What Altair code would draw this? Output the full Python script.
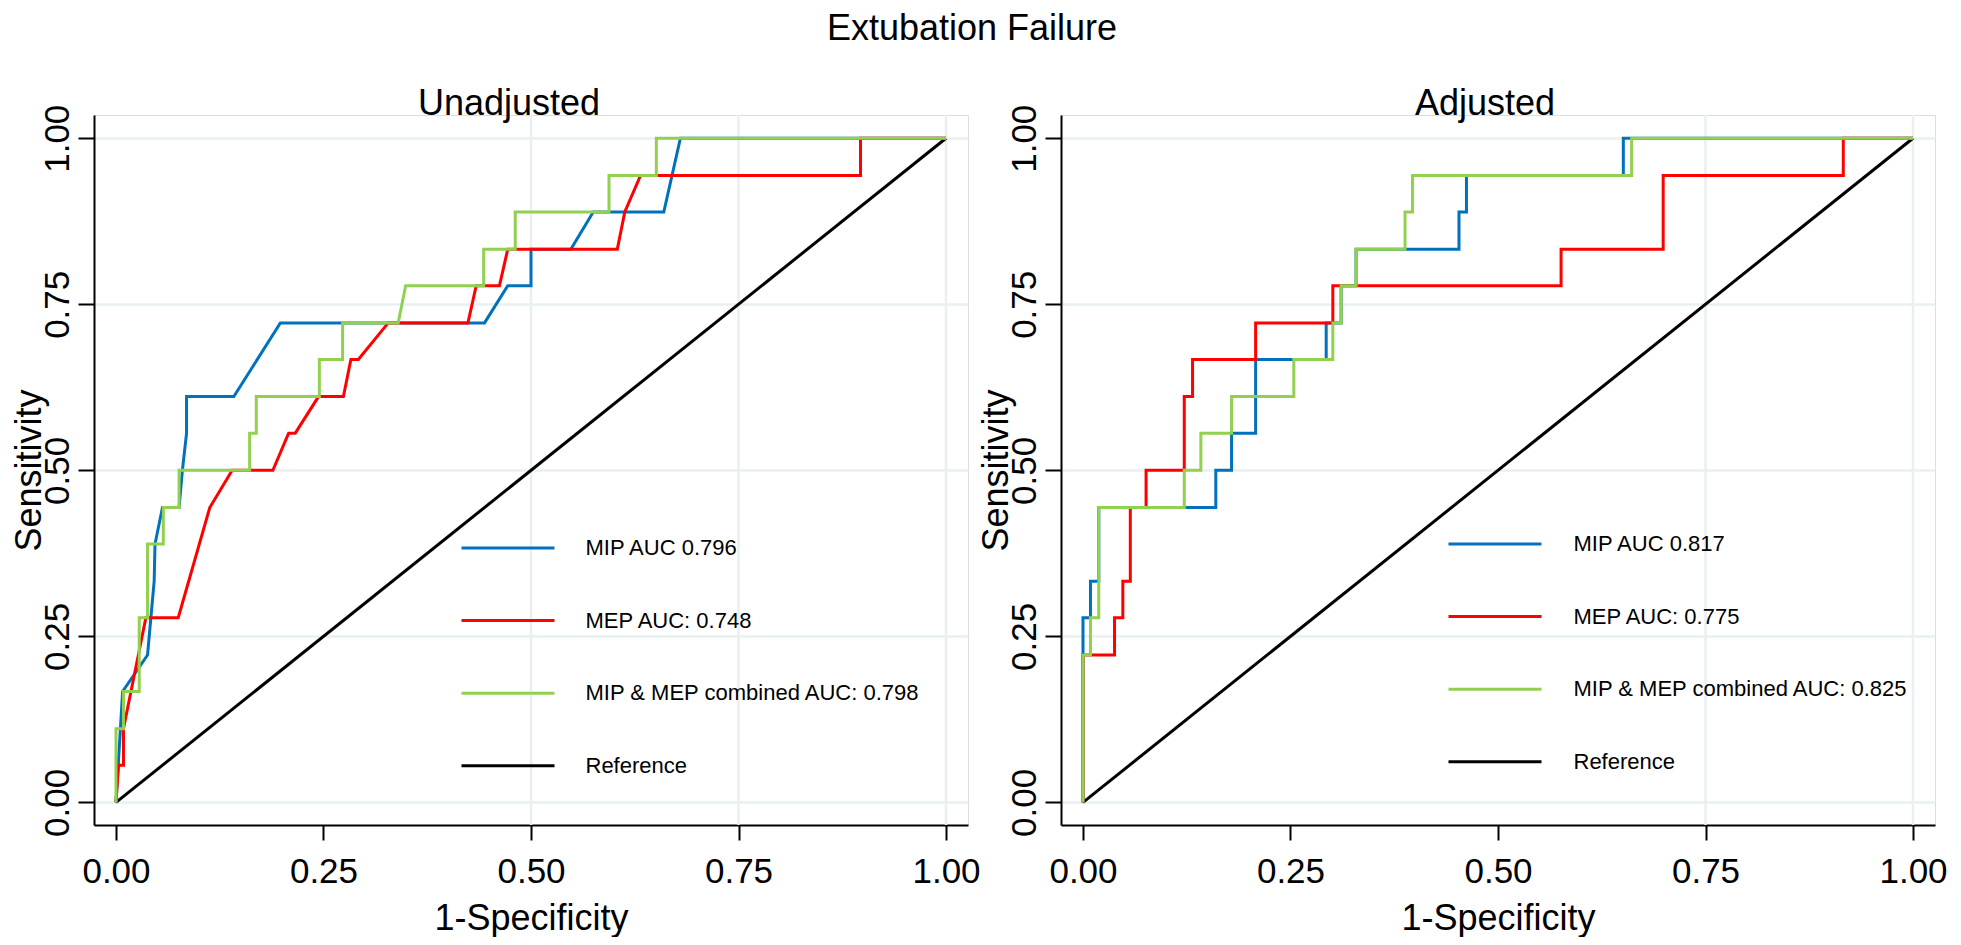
import altair as alt
import pandas as pd

FONT = "Liberation Sans"

# ---------------- data ----------------
colors = ["#0072BD", "#FF0000", "#92D050", "#000000"]
grid_color = "#E8F0F2"

x_ticks = [0, 0.25, 0.5, 0.75, 1.0]
y_ticks = [0, 0.25, 0.5, 0.75, 1.0]

# Unadjusted panel
un_labels = ["MIP AUC 0.796", "MEP AUC: 0.748", "MIP & MEP combined AUC: 0.798", "Reference"]
un_xgrid = [0.5, 0.75, 1.0]

un_mip_x = [0, 0.008, 0.038, 0.046, 0.047, 0.056, 0.076, 0.080, 0.085, 0.085, 0.142,
            0.198, 0.444, 0.472, 0.500, 0.500, 0.548, 0.575, 0.660, 0.680, 1.000]
un_mip_y = [0, 0.167, 0.222, 0.333, 0.389, 0.444, 0.444, 0.5, 0.556, 0.611, 0.611,
            0.722, 0.722, 0.778, 0.778, 0.833, 0.833, 0.889, 0.889, 1.0, 1.0]

un_mep_x = [0, 0.003, 0.009, 0.009, 0.036, 0.075, 0.113, 0.140, 0.189, 0.208, 0.216,
            0.244, 0.274, 0.283, 0.292, 0.328, 0.424, 0.434, 0.462, 0.472, 0.604,
            0.613, 0.632, 0.897, 0.897, 1.0]
un_mep_y = [0, 0.056, 0.056, 0.111, 0.278, 0.278, 0.444, 0.5, 0.5, 0.556, 0.556,
            0.611, 0.611, 0.667, 0.667, 0.722, 0.722, 0.778, 0.778, 0.833, 0.833,
            0.889, 0.944, 0.944, 1.0, 1.0]

un_comb_x = [0, 0, 0.009, 0.009, 0.028, 0.028, 0.038, 0.038, 0.057, 0.057, 0.076,
             0.076, 0.161, 0.161, 0.169, 0.169, 0.245, 0.245, 0.273, 0.273, 0.340,
             0.349, 0.443, 0.443, 0.481, 0.481, 0.594, 0.594, 0.651, 0.651, 1.0]
un_comb_y = [0, 0.111, 0.111, 0.167, 0.167, 0.278, 0.278, 0.389, 0.389, 0.444, 0.444,
             0.5, 0.5, 0.556, 0.556, 0.611, 0.611, 0.667, 0.667, 0.722, 0.722,
             0.778, 0.778, 0.833, 0.833, 0.889, 0.889, 0.944, 0.944, 1.0, 1.0]

# Adjusted panel
adj_labels = ["MIP AUC 0.817", "MEP AUC: 0.775", "MIP & MEP combined AUC: 0.825", "Reference"]
adj_xgrid = [0.75, 1.0]

adj_mip_x = [0, 0, 0.009, 0.009, 0.019, 0.019, 0.160, 0.160, 0.179, 0.179, 0.208, 0.208,
             0.293, 0.293, 0.311, 0.311, 0.329, 0.329, 0.453, 0.453, 0.462, 0.462,
             0.651, 0.651, 1.0]
adj_mip_y = [0, 0.278, 0.278, 0.333, 0.333, 0.444, 0.444, 0.5, 0.5, 0.556, 0.556, 0.667,
             0.667, 0.722, 0.722, 0.778, 0.778, 0.833, 0.833, 0.889, 0.889, 0.944,
             0.944, 1.0, 1.0]

adj_mep_x = [0, 0, 0.038, 0.038, 0.048, 0.048, 0.057, 0.057, 0.076, 0.076, 0.122, 0.122,
             0.132, 0.132, 0.208, 0.208, 0.301, 0.301, 0.576, 0.576, 0.699, 0.699,
             0.916, 0.916, 1.0]
adj_mep_y = [0, 0.222, 0.222, 0.278, 0.278, 0.333, 0.333, 0.444, 0.444, 0.5, 0.5, 0.611,
             0.611, 0.667, 0.667, 0.722, 0.722, 0.778, 0.778, 0.833, 0.833, 0.944,
             0.944, 1.0, 1.0]

adj_comb_x = [0, 0, 0.009, 0.009, 0.019, 0.019, 0.122, 0.122, 0.142, 0.142, 0.179, 0.179,
              0.254, 0.254, 0.301, 0.301, 0.311, 0.311, 0.329, 0.329, 0.388, 0.388,
              0.397, 0.397, 0.661, 0.661, 1.0]
adj_comb_y = [0, 0.222, 0.222, 0.278, 0.278, 0.444, 0.444, 0.5, 0.5, 0.556, 0.556, 0.611,
              0.611, 0.667, 0.667, 0.722, 0.722, 0.778, 0.778, 0.833, 0.833, 0.889,
              0.889, 0.944, 0.944, 1.0, 1.0]

ref_x = [0, 1]
ref_y = [0, 1]

# ---------------- layout constants ----------------
W, H = 874, 710
X_DOMAIN = [-0.0265, 1.0265]
Y_DOMAIN = [-0.034, 1.035]


def build_df(labels, xs_list, ys_list):
    rows = []
    for lab, xs, ys in zip(labels, xs_list, ys_list):
        for i, (xv, yv) in enumerate(zip(xs, ys)):
            rows.append({"series": lab, "fpr": xv, "tpr": yv, "i": i})
    return pd.DataFrame(rows)


def panel(title_text, title_dx, labels, xs_list, ys_list, grid_vals, lx, ly, loff):
    df = build_df(labels, xs_list, ys_list)
    xenc = alt.X(
        "fpr:Q",
        scale=alt.Scale(domain=X_DOMAIN, nice=False, zero=False),
        axis=alt.Axis(values=x_ticks, format=".2f", title="1-Specificity", grid=False,
                      labelFlush=False, labelOverlap=False, tickSize=15,
                      labelPadding=14, titlePadding=12),
    )
    yenc = alt.Y(
        "tpr:Q",
        scale=alt.Scale(domain=Y_DOMAIN, nice=False, zero=False),
        axis=alt.Axis(values=y_ticks, format=".2f", title="Sensitivity", grid=True,
                      labelAngle=270, labelAlign="center", labelBaseline="alphabetic",
                      labelFlush=False, labelOverlap=False, tickSize=16,
                      labelPadding=10, titlePadding=-8),
    )
    color = alt.Color(
        "series:N",
        scale=alt.Scale(domain=labels, range=colors),
        legend=alt.Legend(
            title=None, orient="none", legendX=lx, legendY=ly,
            symbolType="stroke", symbolSize=8649, symbolStrokeWidth=3,
            symbolOffset=0, clipHeight=26, rowPadding=46.6, labelOffset=loff,
            labelFont=FONT, labelFontSize=22, labelColor="black", labelLimit=600,
            padding=0,
        ),
    )
    grid = alt.Chart(pd.DataFrame({"fpr": grid_vals})).mark_rule(
        color=grid_color, strokeWidth=2.5
    ).encode(x=xenc)
    layers = [grid]
    for lab in [labels[3], labels[0], labels[1], labels[2]]:
        layers.append(
            alt.Chart(df)
            .transform_filter(alt.datum.series == lab)
            .mark_line(strokeWidth=3)
            .encode(x=xenc, y=yenc, color=color, order="i:Q")
        )
    return alt.layer(*layers).properties(
        width=W, height=H,
        title=alt.Title(title_text, fontSize=36, font=FONT, fontWeight="normal",
                        color="black", anchor="middle", frame="group",
                        baseline="alphabetic", offset=-47, dx=title_dx),
    )


left = panel("Unadjusted", -22, un_labels,
             [un_mip_x, un_mep_x, un_comb_x, ref_x],
             [un_mip_y, un_mep_y, un_comb_y, ref_y],
             un_xgrid, 366, 420, 29.5)
right = panel("Adjusted", -13, adj_labels,
              [adj_mip_x, adj_mep_x, adj_comb_x, ref_x],
              [adj_mip_y, adj_mep_y, adj_comb_y, ref_y],
              adj_xgrid, 386, 416, 30.5)

chart = (
    alt.hconcat(left, right, spacing=93, bounds="flush")
    .resolve_scale(color="independent")
    .properties(
        title=alt.Title("Extubation Failure", fontSize=36, font=FONT, fontWeight="normal",
                        color="black", anchor="middle", baseline="alphabetic", offset=10,
                        dx=-7),
        padding={"left": 2, "top": 2, "right": 0, "bottom": 0},
    )
    .configure_view(stroke=None)
    .configure(font=FONT)
    .configure_axis(
        domainColor="black", domainWidth=2, tickColor="black", tickWidth=2,
        gridColor=grid_color, gridWidth=2.5,
        labelFont=FONT, labelFontSize=35, labelColor="black",
        titleFont=FONT, titleFontSize=36, titleFontWeight="normal", titleColor="black",
    )
)

chart.save("out.html", embed_options={"renderer": "svg", "actions": False})
